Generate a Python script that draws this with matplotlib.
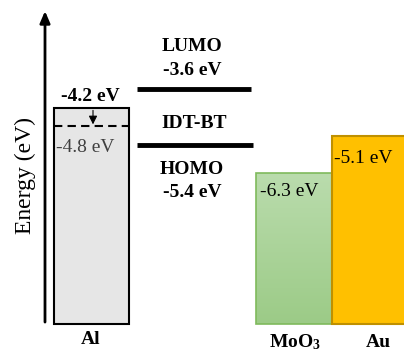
import numpy as np
import matplotlib.pyplot as plt
from matplotlib.patches import Rectangle
from matplotlib.colors import LinearSegmentedColormap

plt.rcParams['font.family'] = ['Liberation Serif', 'DejaVu Serif']
plt.rcParams['mathtext.fontset'] = 'custom'
plt.rcParams['mathtext.rm'] = 'Liberation Serif'
plt.rcParams['mathtext.bf'] = 'Liberation Serif:bold'

# energy levels (eV)
al_top = -4.2
al_work = -4.8
lumo = -3.6
homo = -5.4
moo3_top = -6.3
au_top = -5.1
materials = ['Al', r'$\mathbf{MoO_3}$', 'Au']
level_labels = ['-4.2 eV', '-4.8 eV', '-3.6 eV', '-5.4 eV', '-6.3 eV', '-5.1 eV']

fig = plt.figure(figsize=(4.04, 3.59), dpi=100)
ax = fig.add_axes([0, 0, 1, 1])
ax.set_xlim(0, 404)
ax.set_ylim(-12.30, -0.733)
ax.axis('off')

base = -11.17

# energy axis arrow
ax.annotate('', xy=(45, -1.0), xytext=(45, -11.2),
            arrowprops=dict(arrowstyle='-|>,head_length=0.7,head_width=0.3',
                            color='black', lw=2))
ax.text(25, -6.4, 'Energy (eV)', rotation=90, ha='center', va='center', fontsize=17)

# Al
ax.add_patch(Rectangle((54, base), 75, al_top - base, fc='#e6e6e6', ec='black', lw=1.5))
ax.plot([54, 129], [al_work, al_work], color='black', lw=1.5, ls=(0, (4, 2.5)))
ax.annotate('', xy=(93, al_work - 0.03), xytext=(93, al_top),
            arrowprops=dict(arrowstyle='-|>,head_length=0.5,head_width=0.25',
                            color='black', lw=0.8))
ax.text(90, al_top + 0.1, level_labels[0], ha='center', va='bottom', fontsize=14,
        fontweight='bold')
ax.text(56, al_work - 0.68, level_labels[1], ha='left', va='center', fontsize=14,
        color='#404040')
ax.text(91, base - 0.5, materials[0], ha='center', va='center', fontsize=14,
        fontweight='bold')

# IDT-BT
ax.plot([137, 251], [lumo, lumo], color='black', lw=3.5, solid_capstyle='butt')
ax.plot([137, 253], [homo, homo], color='black', lw=3.5, solid_capstyle='butt')
ax.text(192, lumo + 1.36, 'LUMO', ha='center', va='center', fontsize=14, fontweight='bold')
ax.text(192, lumo + 0.6, level_labels[2], ha='center', va='center', fontsize=14,
        fontweight='bold')
ax.text(194, (lumo + homo) / 2 - 0.2, 'IDT-BT', ha='center', va='center', fontsize=14,
        fontweight='bold')
ax.text(192, homo - 0.8, 'HOMO', ha='center', va='center', fontsize=14, fontweight='bold')
ax.text(192, homo - 1.55, level_labels[3], ha='center', va='center', fontsize=14,
        fontweight='bold')

# MoO3 with gradient
grad = LinearSegmentedColormap.from_list('g', ['#9ccb87', '#badcad'])
im = ax.imshow(np.linspace(0, 1, 100).reshape(-1, 1), cmap=grad, aspect='auto',
               extent=(256, 332, base, moo3_top), origin='lower', zorder=1)
rect = Rectangle((256, base), 76, moo3_top - base, fc='none', ec='#7fba5c', lw=1.2, zorder=2)
ax.add_patch(rect)
im.set_clip_path(rect)
ax.text(260, moo3_top - 0.6, level_labels[4], ha='left', va='center', fontsize=14)
ax.text(295, base - 0.6, materials[1], ha='center', va='center', fontsize=14)

# Au
ax.add_patch(Rectangle((332, base), 80, au_top - base, fc='#ffc000', ec='#bf9000',
                       lw=1.5, zorder=3))
ax.text(334, au_top - 0.75, level_labels[5], ha='left', va='center', fontsize=14,
        zorder=4)
ax.text(378, base - 0.6, materials[2], ha='center', va='center', fontsize=14,
        fontweight='bold')

ax.set_ylim(-12.30, -0.733)
ax.set_xlim(0, 404)
fig.savefig('out.png', dpi=100)
